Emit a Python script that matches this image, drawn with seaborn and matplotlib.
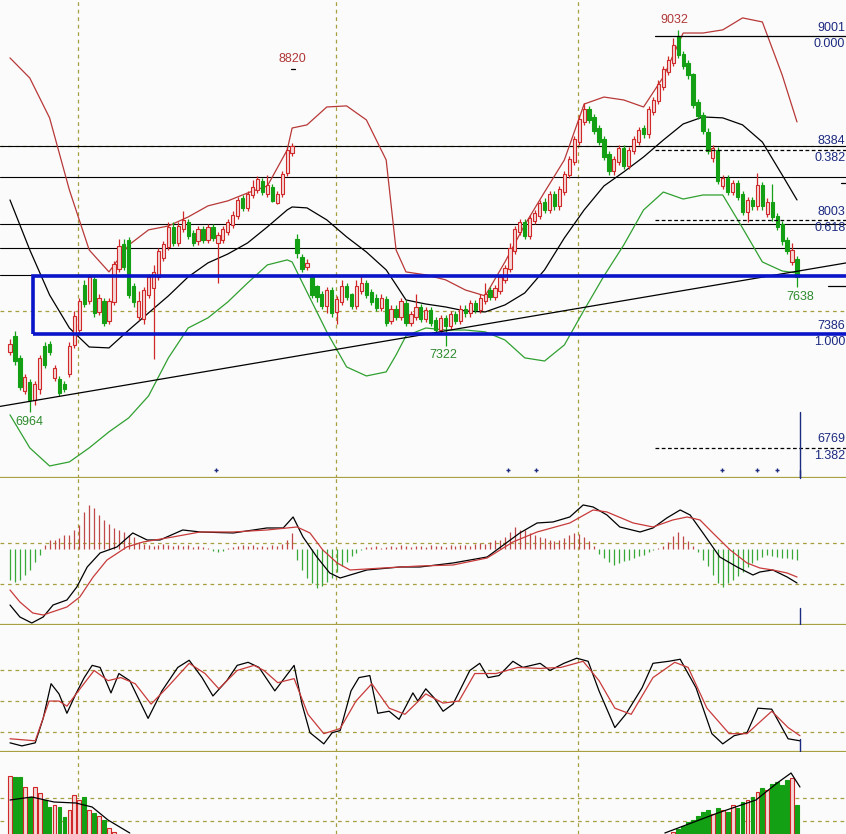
import numpy as np
import pandas as pd
import matplotlib
matplotlib.use("Agg")
import matplotlib.pyplot as plt
import matplotlib.patches as patches
import seaborn as sns

# candles (index level, daily bars)
opens = [7290, 7370, 7250, 7080, 7120, 7030, 7090, 7320, 7330, 7150,
         7140, 7110, 7170, 7330, 7410, 7650, 7570, 7680, 7510, 7560,
         7460, 7560, 7740, 7870, 7890, 7640, 7480, 7470, 7600, 7640,
         7700, 7800, 7860, 7960, 7880, 7960, 7990, 7930, 7890, 7950,
         7900, 7960, 7880, 7900, 7940, 7980, 8030, 8120, 8070, 8140,
         8170, 8210, 8150, 8180, 8100, 8150, 8260, 8370, 7900, 7800,
         7750, 7700, 7640, 7600, 7540, 7620, 7510, 7560, 7640, 7600,
         7540, 7620, 7660, 7610, 7580, 7530, 7570, 7460, 7520, 7480,
         7550, 7450, 7480, 7530, 7470, 7510, 7460, 7410, 7470, 7430,
         7490, 7460, 7520, 7500, 7550, 7520, 7570, 7620, 7590, 7620,
         7680, 7740, 7840, 7940, 7990, 7920, 8000, 8030, 8100, 8060,
         8140, 8080, 8160, 8250, 8320, 8430, 8540, 8600, 8560, 8500,
         8440, 8360, 8270, 8320, 8390, 8300, 8380, 8430, 8500, 8470,
         8590, 8650, 8730, 8810, 8860, 9000, 8900, 8850, 8790, 8640,
         8570, 8480, 8340, 8380, 8190, 8230, 8160, 8200, 8140, 8050,
         8110, 8080, 8190, 8040, 8100, 8020, 7980, 7890, 7780, 7790]
closes = [7326, 7240, 7100, 7150, 7030, 7110, 7250, 7220, 7290, 7200,
          7070, 7090, 7320, 7480, 7560, 7550, 7690, 7500, 7580, 7450,
          7560, 7760, 7860, 7750, 7600, 7560, 7560, 7620, 7690, 7720,
          7830, 7870, 7960, 7880, 7970, 8000, 7920, 7880, 7950, 7900,
          7960, 7910, 7920, 7950, 7990, 8030, 8110, 8070, 8140, 8180,
          8220, 8160, 8190, 8110, 8140, 8250, 8380, 8400, 7830, 7740,
          7770, 7600, 7590, 7540, 7620, 7500, 7570, 7640, 7590, 7540,
          7640, 7660, 7600, 7560, 7530, 7580, 7450, 7520, 7480, 7560,
          7450, 7490, 7530, 7470, 7510, 7450, 7410, 7470, 7430, 7490,
          7460, 7520, 7500, 7550, 7520, 7580, 7600, 7590, 7630, 7690,
          7740, 7850, 7950, 7990, 7920, 8010, 8040, 8090, 8060, 8140,
          8080, 8170, 8250, 8330, 8440, 8550, 8600, 8550, 8490, 8430,
          8350, 8270, 8330, 8390, 8300, 8380, 8440, 8490, 8470, 8600,
          8650, 8740, 8820, 8870, 8950, 8900, 8840, 8790, 8630, 8570,
          8490, 8380, 8390, 8220, 8230, 8160, 8200, 8130, 8050, 8110,
          8080, 8190, 8080, 8100, 8020, 7970, 7890, 7840, 7840, 7700]
highs = [7360, 7400, 7270, 7170, 7140, 7130, 7270, 7340, 7350, 7220,
         7160, 7130, 7340, 7510, 7580, 7680, 7710, 7700, 7600, 7580,
         7580, 7780, 7900, 7900, 7910, 7660, 7620, 7640, 7710, 7760,
         7850, 7890, 7990, 7990, 7990, 8050, 8010, 7950, 7970, 7970,
         7980, 7980, 7940, 7970, 8010, 8050, 8130, 8140, 8160, 8220,
         8240, 8230, 8250, 8200, 8160, 8270, 8400, 8420, 7930, 7820,
         7790, 7710, 7650, 7620, 7640, 7640, 7590, 7680, 7660, 7610,
         7680, 7700, 7680, 7630, 7600, 7600, 7590, 7540, 7540, 7580,
         7570, 7510, 7600, 7550, 7530, 7530, 7480, 7490, 7490, 7510,
         7510, 7540, 7540, 7570, 7570, 7600, 7660, 7640, 7650, 7710,
         7760, 7880, 7970, 8010, 8010, 8030, 8060, 8110, 8120, 8160,
         8160, 8190, 8270, 8350, 8460, 8570, 8640, 8620, 8580, 8520,
         8460, 8380, 8350, 8410, 8410, 8400, 8460, 8510, 8520, 8620,
         8670, 8760, 8840, 8890, 8990, 9032, 8920, 8870, 8800, 8660,
         8590, 8500, 8410, 8400, 8250, 8250, 8220, 8220, 8160, 8130,
         8130, 8260, 8210, 8120, 8200, 8040, 8000, 7910, 7880, 7810]
lows = [7270, 7220, 7080, 7060, 6964, 7000, 7060, 7200, 7270, 7130,
        7050, 7070, 7150, 7310, 7390, 7530, 7550, 7480, 7490, 7430,
        7440, 7540, 7720, 7730, 7580, 7530, 7460, 7440, 7580, 7250,
        7680, 7780, 7840, 7860, 7860, 7940, 7900, 7860, 7870, 7880,
        7880, 7890, 7660, 7880, 7920, 7960, 8010, 8050, 8050, 8120,
        8150, 8140, 8130, 8100, 8090, 8130, 8240, 8350, 7800, 7720,
        7730, 7580, 7560, 7520, 7500, 7480, 7440, 7540, 7570, 7520,
        7520, 7600, 7580, 7540, 7510, 7510, 7430, 7440, 7460, 7460,
        7430, 7430, 7460, 7450, 7450, 7430, 7390, 7390, 7322, 7410,
        7440, 7440, 7480, 7480, 7500, 7500, 7550, 7570, 7570, 7600,
        7660, 7720, 7820, 7920, 7900, 7900, 7980, 8010, 8040, 8040,
        8060, 8060, 8140, 8230, 8300, 8410, 8520, 8530, 8470, 8410,
        8330, 8250, 8250, 8300, 8280, 8280, 8360, 8410, 8450, 8450,
        8570, 8630, 8710, 8790, 8840, 8880, 8820, 8770, 8610, 8550,
        8470, 8360, 8320, 8200, 8170, 8140, 8140, 8110, 8030, 7990,
        8060, 8060, 8060, 8020, 8000, 7950, 7870, 7820, 7760, 7638]

# bollinger bands, read at these bar positions
band_idx = [0, 4, 8, 12, 16, 20, 24, 28, 32, 36, 40, 44, 48, 52, 56, 57, 60, 64, 68, 72,
            76, 78, 80, 84, 88, 92, 96, 100, 104, 108, 112, 116, 120, 124, 128, 132, 136,
            140, 144, 148, 152, 156, 159]
band_up = [8882, 8773, 8557, 8166, 7841, 7722, 7868, 7950, 7971, 8020, 8080, 8107, 8150,
           8188, 8383, 8502, 8519, 8616, 8622, 8546, 8329, 7841, 7722, 7706, 7679, 7624,
           7592, 7776, 7977, 8155, 8329, 8632, 8670, 8654, 8616, 8779, 9017, 9017, 9034,
           9099, 9077, 8790, 8535]
band_mid = [8112, 7841, 7597, 7418, 7315, 7310, 7407, 7500, 7592, 7695, 7771, 7819, 7879,
            7966, 8058, 8074, 8069, 8004, 7912, 7830, 7733, 7652, 7570, 7548, 7532, 7510,
            7505, 7543, 7608, 7733, 7906, 8058, 8188, 8264, 8345, 8437, 8524, 8562, 8557,
            8519, 8426, 8248, 8112]
band_low = [6947, 6768, 6670, 6692, 6768, 6855, 6931, 7050, 7256, 7418, 7473, 7559, 7662,
            7760, 7787, 7776, 7613, 7397, 7207, 7158, 7180, 7272, 7375, 7418, 7407, 7407,
            7397, 7353, 7256, 7239, 7326, 7516, 7700, 7868, 8058, 8155, 8117, 8139, 8139,
            7960, 7776, 7727, 7716]

trend_x = [-2, 169]
trend_y = [6993, 7771]
level_lines = [8405, 8237, 7982, 7852, 7706]
fib_high, fib_low = 9001, 7386
fib_ratios = [0.0, 0.382, 0.618, 1.0, 1.382]
box_top = 7700
signal_dots = [41.6, 100.6, 106.3, 143.8, 150.9, 155.0]

# MACD
hist = [-62, -66, -62, -52, -42, -26, -12, 8, 18, 18, 22, 28, 28, 38, 48, 74, 88, 82, 68, 58,
        50, 42, 38, 34, 28, 24, 14, 10, 8, 6, 8, 10, 8, 6, 8, 6, 8, 4, 6, 4,
        2, -4, -6, -4, 1, 4, 6, 8, 6, 8, 4, 6, 4, 8, 6, 10, 18, 32, -22, -42,
        -58, -68, -78, -74, -66, -58, -46, -34, -26, -14, -8, -2, 4, 4, 6, 2, 4, 6, 4, 8,
        6, 4, 6, 6, 4, 8, 6, 6, 4, 8, 6, 8, 8, 6, 10, 12, 10, 14, 18, 18,
        24, 34, 44, 38, 38, 32, 28, 24, 22, 18, 16, 18, 22, 28, 32, 30, 24, 16, 6, -10,
        -18, -26, -32, -28, -24, -22, -18, -14, -12, -6, -2, 2, 6, 14, 26, 34, 26, 16, 6, -6,
        -22, -34, -52, -68, -76, -68, -62, -54, -46, -36, -28, -22, -16, -12, -14, -16, -18, -18, -20, -22]
dif_idx = [0, 2.0, 4.4, 6.7, 8.7, 11.5, 13.5, 15.6, 18.2, 21.6, 24.8, 27.7, 30.3, 34.9, 38.4,
           45.1, 51.9, 55.2, 57.2, 59.2, 62.0, 64.6, 66.7, 72.1, 78.8, 82.8, 89.5, 96.4, 103.0,
           106.5, 109.7, 113.1, 115.8, 117.8, 120.6, 123.2, 127.3, 129.9, 132.7, 135.4, 137.4,
           140.0, 143.4, 146.9, 150.1, 151.5, 154.1, 157.0, 159]
dif = [-112, -136, -148, -136, -112, -102, -76, -36, -8, 4, 32, 18, 18, 38, 34,
       32, 42, 42, 64, 24, -16, -48, -58, -42, -36, -36, -28, -16, 32,
       52, 54, 64, 88, 84, 68, 44, 34, 42, 62, 78, 68,
       32, -16, -36, -52, -46, -42, -56, -68]
dea_idx = [0, 2.0, 4.6, 6.7, 11.5, 14.1, 16.8, 19.6, 23.6, 26.9, 32.9, 38.4, 45.1, 51.9, 58.0,
           60.6, 63.2, 66.1, 68.7, 75.4, 82.8, 89.5, 96.4, 101.6, 106.5, 113.1, 117.8, 120.6,
           125.9, 129.9, 133.9, 136.8, 139.4, 142.0, 145.5, 148.9, 151.5, 154.1, 157.0, 159]
dea = [-82, -106, -128, -132, -116, -96, -56, -22, 4, 14, 24, 34, 34, 38, 44,
       32, -2, -28, -42, -38, -34, -32, -18, 14, 34, 52, 78, 74,
       52, 44, 58, 64, 58, 32, -2, -28, -38, -42, -48, -56]

# KDJ
k_idx = [0, 2.4, 5.1, 6.7, 8.3, 9.9, 11.5, 13.3, 15.0, 16.6, 18.2, 20.4, 22.0, 24.2, 27.9,
         30.7, 33.9, 36.2, 38.8, 41.0, 43.8, 45.9, 48.1, 50.3, 53.5, 57.4, 59.0, 60.6, 63.4,
         65.1, 66.7, 68.9, 70.5, 72.7, 74.3, 76.6, 78.6, 81.4, 82.4, 84.0, 85.7, 87.5, 89.5,
         92.9, 94.9, 96.6, 98.8, 101.6, 103.6, 107.1, 109.1, 111.9, 114.5, 116.8, 119.0,
         122.2, 124.4, 127.7, 129.9, 133.1, 135.4, 138.6, 141.8, 144.0, 146.3, 148.9, 151.1,
         153.9, 157.2, 159.6]
k_vals = [9, 6, 9, 33, 67, 57, 38, 57, 73, 85, 83, 58, 77, 70, 33,
          60, 83, 90, 73, 55, 70, 85, 88, 83, 60, 85, 47, 19, 8,
          19, 21, 60, 73, 75, 38, 40, 32, 58, 50, 62, 53, 40, 47,
          80, 87, 73, 75, 89, 83, 87, 80, 87, 92, 89, 60,
          24, 37, 63, 87, 89, 91, 63, 18, 8, 16, 19, 43,
          42, 13, 11]
d_idx = [0, 5.1, 7.9, 9.9, 11.5, 14.3, 17.0, 19.8, 22.4, 25.3, 28.5, 31.7, 36.2, 39.4, 42.2,
         45.9, 49.3, 51.3, 54.1, 57.4, 60.2, 63.4, 66.7, 69.9, 73.1, 76.6, 79.8, 84.0, 87.5,
         90.7, 93.9, 98.2, 102.6, 107.1, 111.3, 115.8, 119.0, 122.2, 125.5, 129.9, 134.3,
         137.0, 140.8, 145.3, 148.9, 153.9, 157.2, 159.6]
d_vals = [13, 11, 50, 50, 45, 63, 80, 70, 73, 67, 47, 63, 87, 77, 62,
          80, 85, 80, 68, 72, 37, 18, 23, 50, 67, 43, 37, 57, 48,
          50, 77, 77, 83, 82, 83, 89, 70, 43, 37, 73, 88,
          83, 43, 18, 18, 40, 24, 16]

# volume
volume = [124, 123, 123, 113, 103, 113, 107, 100, 93, 95, 93, 83, 90, 105, 100, 103, 90, 87, 84, 80,
          72, 68, 64, 61, 58, 55, 52, 50, 48, 52, 55, 50, 47, 45, 48, 44, 46, 42, 45, 40,
          44, 48, 42, 40, 43, 45, 48, 44, 46, 50, 47, 45, 48, 44, 46, 52, 58, 60, 55, 52,
          50, 48, 52, 47, 45, 48, 44, 42, 45, 40, 43, 41, 39, 42, 38, 40, 43, 39, 41, 38,
          40, 37, 39, 41, 38, 40, 36, 38, 42, 39, 40, 43, 41, 44, 42, 46, 48, 45, 50, 52,
          55, 58, 60, 56, 54, 57, 55, 58, 54, 56, 53, 57, 59, 60, 62, 63, 60, 58, 55, 56,
          52, 54, 50, 52, 49, 51, 53, 55, 54, 57, 58, 60, 62, 66, 68, 71, 74, 78, 80, 84,
          88, 90, 86, 92, 90, 88, 95, 92, 98, 100, 103, 108, 112, 110, 116, 118, 115, 120, 122, 95]
vol_ma_left_idx = [0, 4.4, 8.9, 13.3, 16.6, 19.8, 24.2]
vol_ma_left = [100, 103, 98, 97, 93, 80, 67]
vol_ma_right_idx = [132.3, 143.0, 150.7, 155.0, 157.8, 159.6]
vol_ma_right = [67, 87, 100, 117, 127, 113]

sns.set_theme(style="white")
plt.rcParams["font.family"] = ["Liberation Sans", "DejaVu Sans"]

RED = "#d02828"
RED_FACE = "#f6d8d8"
GREEN = "#14a014"
OLIVE = "#a8a040"
NAVY = "#1c2a80"
BG = "#fbfbfb"

idx = np.arange(len(closes))
up = np.array(closes) >= np.array(opens)
x_lim = (-2.02, 168.9)
vlines_at = [13.7, 65.9, 114.7]
last_x = 159.6

fig = plt.figure(figsize=(8.46, 8.34), dpi=100)
fig.patch.set_facecolor(BG)
ax = fig.add_axes([0, 0.4269, 1, 0.5731])
ax_macd = fig.add_axes([0, 0.2506, 1, 0.1763])
ax_kdj = fig.add_axes([0, 0.0983, 1, 0.1523])
ax_vol = fig.add_axes([0, 0, 1, 0.0983])

for a in [ax, ax_macd, ax_kdj, ax_vol]:
    a.set_facecolor(BG)
    a.set_xlim(*x_lim)
    a.set_xticks([])
    a.set_yticks([])
    for s in a.spines.values():
        s.set_visible(False)
    for v in vlines_at:
        a.axvline(v, color=OLIVE, lw=0.9, ls=(0, (3, 3)), zorder=1)

ax.set_ylim(6605, 9196)
ax_macd.set_ylim(-152, 142)
ax_kdj.set_ylim(0, 124.6)
ax_vol.set_ylim(66, 148)

# panel separators
for a in [ax, ax_macd, ax_kdj]:
    a.axhline(a.get_ylim()[0], color=OLIVE, lw=1.6, clip_on=False, zorder=5)

# ---- main price panel
for lv in [8405, 7510]:
    ax.axhline(lv, color=OLIVE, lw=0.9, ls=(0, (3, 3)), zorder=1)
for lv in level_lines:
    ax.axhline(lv, color="black", lw=0.8, zorder=2)

sns.lineplot(x=band_idx, y=band_up, ax=ax, color="#b83838", lw=0.9, estimator=None, sort=False, zorder=3)
sns.lineplot(x=band_idx, y=band_mid, ax=ax, color="black", lw=0.9, estimator=None, sort=False, zorder=3)
sns.lineplot(x=band_idx, y=band_low, ax=ax, color="#30a030", lw=0.9, estimator=None, sort=False, zorder=3)

colors = np.where(up, RED, GREEN)
faces = np.where(up, RED_FACE, GREEN)
ax.vlines(idx, lows, highs, colors=colors, lw=0.9, zorder=4)
ax.bar(idx, np.abs(np.array(closes) - np.array(opens)) + 6,
       bottom=np.minimum(opens, closes) - 3, width=0.66,
       color=faces, edgecolor=colors, linewidth=0.8, zorder=5)

ax.plot(trend_x, trend_y, color="black", lw=0.9, zorder=6)

# fibonacci levels
fib_start = 130.3
for r in fib_ratios:
    lv = fib_high - r * (fib_high - fib_low)
    if r == 0.0:
        ax.plot([fib_start, x_lim[1]], [lv, lv], color="black", lw=0.9, zorder=6)
    elif r != 1.0:
        ax.plot([fib_start, x_lim[1]], [lv, lv], color="black", lw=0.9, ls=(0, (3, 2)), zorder=6)
    ax.text(168.75, lv + 45, f"{lv:.0f}", color=NAVY, fontsize=9, va="center", ha="right", zorder=8)
    ax.text(168.75, lv - 45, f"{r:.3f}", color=NAVY, fontsize=9, va="center", ha="right", zorder=8)

ax.plot([165.3, x_lim[1]], [7646, 7646], color="black", lw=0.9, zorder=6)
ax.plot([167.8, x_lim[1]], [8204, 8204], color="black", lw=0.9, zorder=6)

box = patches.Rectangle((4.65, fib_low), 170, box_top - fib_low, fill=False,
                        edgecolor="#0a14c8", lw=2.6, zorder=7)
ax.add_patch(box)

ax.plot([56.7, 57.6], [8822, 8822], color="black", lw=0.9, zorder=6)
ax.text(57, 8875, "8820", color="#b03838", fontsize=9, ha="center", va="center")
ax.text(134.3, 9088, "9032", color="#b03838", fontsize=9, ha="center", va="center")
ax.text(4.0, 6909, "6964", color="#2e8b2e", fontsize=9, ha="center", va="center")
ax.text(87.5, 7272, "7322", color="#2e8b2e", fontsize=9, ha="center", va="center")
ax.text(159.6, 7586, "7638", color="#2e8b2e", fontsize=9, ha="center", va="center")

ax.scatter(signal_dots, [6649] * len(signal_dots), s=5, marker="+", color=NAVY, lw=1, zorder=6)
ax.plot([last_x, last_x], [6963, 6605], color=NAVY, lw=1, zorder=6)

# ---- MACD panel
for lv in [12, -70]:
    ax_macd.axhline(lv, color=OLIVE, lw=0.9, ls=(0, (3, 3)), zorder=1)
hist = np.array(hist)
ax_macd.vlines(idx, 0, hist, colors=np.where(hist >= 0, "#c04848", "#38a838"), lw=0.9, zorder=2)
sns.lineplot(x=dif_idx, y=dif, ax=ax_macd, color="black", lw=0.9, estimator=None, sort=False, zorder=3)
sns.lineplot(x=dea_idx, y=dea, ax=ax_macd, color="#c83a3a", lw=0.9, estimator=None, sort=False, zorder=3)
ax_macd.plot([last_x, last_x], [-118, -152], color=NAVY, lw=1, zorder=6)
ax_macd.plot([last_x, last_x], [142, 158], color=NAVY, lw=1, zorder=6, clip_on=False)

# ---- KDJ panel
for lv in [20, 50, 80]:
    ax_kdj.axhline(lv, color=OLIVE, lw=0.9, ls=(0, (3, 3)), zorder=1)
sns.lineplot(x=k_idx, y=k_vals, ax=ax_kdj, color="black", lw=0.9, estimator=None, sort=False, zorder=3)
sns.lineplot(x=d_idx, y=d_vals, ax=ax_kdj, color="#c83a3a", lw=0.9, estimator=None, sort=False, zorder=3)
ax_kdj.plot([last_x, last_x], [12.8, 0], color=NAVY, lw=1, zorder=6)

# ---- volume panel
for lv in [102, 79]:
    ax_vol.axhline(lv, color=OLIVE, lw=0.9, ls=(0, (3, 3)), zorder=1)
ax_vol.bar(idx, volume, width=0.75, color=faces, edgecolor=colors, linewidth=0.8, zorder=2)
sns.lineplot(x=vol_ma_left_idx, y=vol_ma_left, ax=ax_vol, color="black", lw=0.9, estimator=None, sort=False, zorder=3)
sns.lineplot(x=vol_ma_right_idx, y=vol_ma_right, ax=ax_vol, color="black", lw=0.9, estimator=None, sort=False, zorder=3)

for a in [ax, ax_macd, ax_kdj, ax_vol]:
    if a.get_legend() is not None:
        a.get_legend().remove()
    a.set_xlabel("")
    a.set_ylabel("")

fig.savefig("out.png", dpi=100, facecolor=BG)
